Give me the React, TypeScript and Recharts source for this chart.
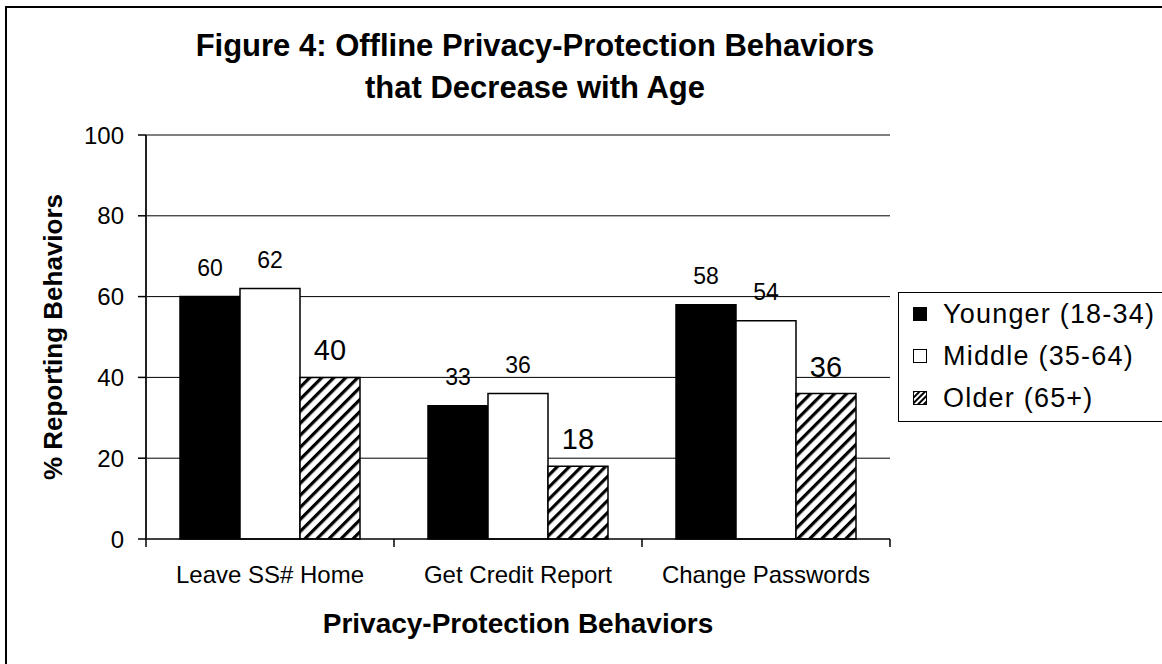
import React from 'react';
import { BarChart, Bar, XAxis, YAxis, CartesianGrid, Legend, LabelList, Label, ReferenceLine } from 'recharts';

const behaviors = ['Leave SS# Home', 'Get Credit Report', 'Change Passwords'];
const younger = [60, 33, 58];
const middle = [62, 36, 54];
const older = [40, 18, 36];
const yTicks = [0, 20, 40, 60, 80, 100];

const series = [
  { key: 'younger', name: 'Younger (18-34)', fill: '#000000' },
  { key: 'middle', name: 'Middle (35-64)', fill: '#ffffff' },
  { key: 'older', name: 'Older (65+)', fill: 'url(#hatch)' },
];

const data = behaviors.map((behavior, i) => ({
  behavior,
  younger: younger[i],
  middle: middle[i],
  older: older[i],
}));

const FONT = '"Liberation Sans", Arial, sans-serif';
const X_TICK_MARGIN = 27;

// category labels sit under the band centre, tick marks go on the band edges
const CategoryTick = (props: any) => {
  const { x, y, payload, index } = props;
  const half = payload?.offset ?? 0;
  const axisY = y - X_TICK_MARGIN;
  return (
    <g>
      <line x1={x - half} x2={x - half} y1={axisY} y2={axisY + 8} stroke="#000" strokeWidth={1.5} />
      {index === behaviors.length - 1 && (
        <line x1={x + half} x2={x + half} y1={axisY} y2={axisY + 8} stroke="#000" strokeWidth={1.5} />
      )}
      <text x={x} y={y} dy="0.71em" textAnchor="middle" fontSize={24} fill="#000">
        {payload.value}
      </text>
    </g>
  );
};

const Swatch = ({ kind }: { kind: string }) => (
  <svg width={14} height={14} style={{ display: 'block' }}>
    <defs>
      <pattern id="hatchSmall" patternUnits="userSpaceOnUse" width={4} height={4} patternTransform="rotate(45)">
        <rect width={4} height={4} fill="#fff" />
        <rect width={2} height={4} fill="#000" />
      </pattern>
    </defs>
    <rect
      x={0.5}
      y={0.5}
      width={13}
      height={13}
      fill={kind === 'younger' ? '#000' : kind === 'middle' ? '#fff' : 'url(#hatchSmall)'}
      stroke="#000"
      strokeWidth={1}
    />
  </svg>
);

const LegendBox = (props: any) => {
  const { payload = [] } = props;
  const order = series.map((s) => s.key);
  const items = [...payload].sort(
    (a: any, b: any) => order.indexOf(a.dataKey) - order.indexOf(b.dataKey)
  );
  return (
    <div
      style={{
        border: '1px solid #000',
        background: '#fff',
        height: 130,
        boxSizing: 'border-box',
        paddingLeft: 14,
        fontFamily: FONT,
      }}
    >
      {items.map((entry: any) => (
        <div key={entry.value} style={{ display: 'flex', alignItems: 'center', height: 42 }}>
          <Swatch kind={entry.dataKey} />
          <span style={{ marginLeft: 16, fontSize: 27, letterSpacing: 1.2, color: '#000', whiteSpace: 'nowrap' }}>
            {entry.value}
          </span>
        </div>
      ))}
    </div>
  );
};

export default function App() {
  return (
    <div
      style={{
        position: 'absolute',
        left: 0,
        top: 0,
        width: 1162,
        height: 664,
        overflow: 'hidden',
        background: '#fff',
        fontFamily: FONT,
      }}
    >
      <div
        style={{
          position: 'absolute',
          left: 5,
          top: 6,
          width: 1200,
          height: 700,
          borderLeft: '2px solid #000',
          borderTop: '2px solid #000',
        }}
      />
      <div
        style={{
          position: 'absolute',
          left: 0,
          top: 25,
          width: 1070,
          textAlign: 'center',
          fontSize: 31,
          fontWeight: 'bold',
          lineHeight: '42px',
          color: '#000',
        }}
      >
        Figure 4: Offline Privacy-Protection Behaviors
        <br />
        that Decrease with Age
      </div>
      <div style={{ position: 'absolute', left: 0, top: 0 }}>
        <BarChart
          width={1162}
          height={664}
          data={data}
          margin={{ top: 135, right: 272, bottom: 25, left: 26 }}
          barSize={60}
          barGap={0}
        >
          <defs>
            <pattern id="hatch" patternUnits="userSpaceOnUse" width={8.5} height={8.5} patternTransform="rotate(45)">
              <rect width={8.5} height={8.5} fill="#fff" />
              <rect width={3.2} height={8.5} fill="#000" />
            </pattern>
          </defs>
          <CartesianGrid
            vertical={false}
            stroke="#000"
            strokeWidth={1}
            horizontalValues={yTicks.filter((v) => v > 0 && v < 100)}
          />
          <XAxis
            dataKey="behavior"
            height={100}
            tickSize={0}
            tickMargin={X_TICK_MARGIN}
            tickLine={false}
            axisLine={{ stroke: '#000', strokeWidth: 1.5 }}
            tick={<CategoryTick />}
            interval={0}
          >
            <Label
              value="Privacy-Protection Behaviors"
              position="insideBottom"
              offset={6}
              fontSize={28}
              fontWeight="bold"
              fill="#000"
            />
          </XAxis>
          <YAxis
            width={120}
            domain={[0, 100]}
            ticks={yTicks}
            interval={0}
            tickSize={8}
            tickMargin={14}
            tick={{ fontSize: 24, fill: '#000' }}
            tickLine={{ stroke: '#000', strokeWidth: 1.5 }}
            axisLine={{ stroke: '#222', strokeWidth: 2 }}
          >
            <Label
              content={({ viewBox }: any) => {
                const cx = viewBox.x + 36;
                const cy = viewBox.y + viewBox.height / 2;
                return (
                  <text
                    x={cx}
                    y={cy}
                    transform={`rotate(-90, ${cx}, ${cy})`}
                    textAnchor="middle"
                    fontSize={26}
                    fontWeight="bold"
                    fill="#000"
                  >
                    % Reporting Behaviors
                  </text>
                );
              }}
            />
          </YAxis>
          <YAxis
            yAxisId="r"
            orientation="right"
            width={0}
            domain={[0, 100]}
            tick={false}
            tickLine={false}
            axisLine={{ stroke: '#808080', strokeWidth: 2 }}
          />
          <ReferenceLine y={100} stroke="#808080" strokeWidth={2} />
          <Legend
            layout="vertical"
            align="center"
            verticalAlign="middle"
            content={<LegendBox />}
            wrapperStyle={{ left: 898, top: 292, width: 290, height: 130 }}
          />
          {series.map((s) => (
            <Bar
              key={s.key}
              dataKey={s.key}
              name={s.name}
              fill={s.fill}
              stroke="#000"
              strokeWidth={1.5}
              isAnimationActive={false}
            >
              <LabelList
                dataKey={s.key}
                position="top"
                offset={s.key === 'older' ? 17 : 21}
                fontSize={s.key === 'older' ? 29 : 23}
                fill="#000"
              />
            </Bar>
          ))}
        </BarChart>
      </div>
    </div>
  );
}
